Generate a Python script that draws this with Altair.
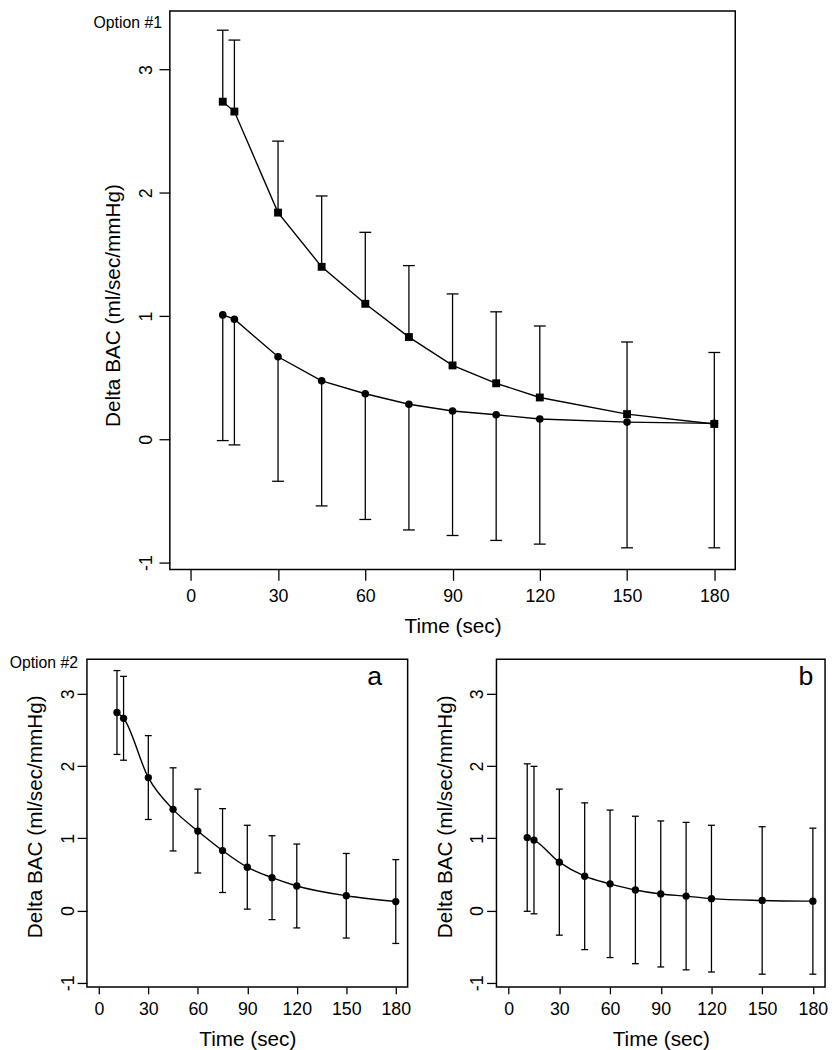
import altair as alt
import pandas as pd

# ---- data ----
time_sec = [11, 15, 30, 45, 60, 75, 90, 105, 120, 150, 180]
# series shown with squares in option #1 and in panel a
mean_a = [2.74, 2.66, 1.84, 1.40, 1.10, 0.83, 0.60, 0.455, 0.34, 0.205, 0.125]
sd_a = [0.58, 0.58, 0.58, 0.575, 0.58, 0.58, 0.58, 0.58, 0.58, 0.585, 0.58]
# series shown with circles in option #1 and in panel b
mean_b = [1.01, 0.975, 0.67, 0.475, 0.37, 0.285, 0.23, 0.20, 0.165, 0.14, 0.13]
sd_b = [1.02, 1.02, 1.01, 1.015, 1.02, 1.02, 1.01, 1.02, 1.015, 1.02, 1.01]

x_ticks = [0, 30, 60, 90, 120, 150, 180]
y_ticks = [-1, 0, 1, 2, 3]
x_domain = [-7.2, 187.2]
y_domain = [-1.056, 3.476]

FONT = "Liberation Sans"


def frame(mean, sd):
    return pd.DataFrame({
        "time": time_sec,
        "mean": mean,
        "hi": [m + s for m, s in zip(mean, sd)],
        "lo": [m - s for m, s in zip(mean, sd)],
    })


df_a = frame(mean_a, sd_a)
df_b = frame(mean_b, sd_b)


def x_enc(field, p):
    return alt.X(
        f"{field}:Q",
        scale=alt.Scale(domain=x_domain, nice=False, zero=False),
        axis=alt.Axis(
            values=x_ticks, title="Time (sec)", domain=False, grid=False,
            tickSize=p["xtick"], tickWidth=1.3, tickColor="black",
            labelFont=FONT, labelFontSize=18, labelColor="black",
            labelPadding=p["xlpad"], labelFlush=False, labelOverlap=False,
            titleFont=FONT, titleFontSize=21, titleFontWeight="normal",
            titleColor="black", titlePadding=p["xtpad"],
        ),
    )


def y_enc(field, p):
    return alt.Y(
        f"{field}:Q",
        scale=alt.Scale(domain=y_domain, nice=False, zero=False),
        axis=alt.Axis(
            values=y_ticks, title="Delta BAC (ml/sec/mmHg)", domain=False,
            grid=False, tickSize=p["ytick"], tickWidth=1.3, tickColor="black",
            labelFont=FONT, labelFontSize=18, labelColor="black",
            labelAngle=270, labelAlign="center", labelBaseline="alphabetic",
            labelExpr="'' + datum.value",
            labelPadding=p["ylpad"], labelFlush=False, labelOverlap=False,
            titleFont=FONT, titleFontSize=21, titleFontWeight="normal",
            titleColor="black", titlePadding=p["ytpad"], titleY=p["ytitley"],
        ),
    )


def series(df, shape, size, err, cap, interp, p):
    base = alt.Chart(df)
    X = x_enc("time", p)
    layers = [base.mark_line(color="black", strokeWidth=1.4, interpolate=interp).encode(
        x=X, y=y_enc("mean", p))]
    if err in ("up", "both"):
        layers.append(base.mark_rule(color="black", strokeWidth=1.3).encode(
            x=X, y=y_enc("mean", p), y2="hi"))
        layers.append(base.mark_tick(color="black", orient="horizontal", size=cap,
                                     thickness=1.3, opacity=1).encode(
            x=X, y=y_enc("hi", p)))
    if err in ("down", "both"):
        layers.append(base.mark_rule(color="black", strokeWidth=1.3).encode(
            x=X, y=y_enc("lo", p), y2="mean"))
        layers.append(base.mark_tick(color="black", orient="horizontal", size=cap,
                                     thickness=1.3, opacity=1).encode(
            x=X, y=y_enc("lo", p)))
    layers.append(base.mark_point(shape=shape, filled=True, size=size, color="black",
                                  opacity=1).encode(x=X, y=y_enc("mean", p)))
    return layers


def label(text, x, y, size, align):
    return alt.Chart(pd.DataFrame({"t": [text]})).mark_text(
        font=FONT, fontSize=size, color="black", align=align, baseline="alphabetic"
    ).encode(x=alt.value(x), y=alt.value(y), text="t:N")


# ---- Option #1 ----
TOP_W, TOP_H = 573, 566
p_top = dict(xtick=11, xlpad=7, xtpad=11, ytick=11, ylpad=8, ytpad=14, ytitley=298)
top_layers = (
    series(df_b, "circle", 60, "down", 12, "linear", p_top)
    + series(df_a, "square", 64, "up", 12, "linear", p_top)
    + [label("Option #1", -8, 17, 16, "right")]
)
top = alt.layer(*top_layers).properties(width=TOP_W, height=TOP_H)

# empty, invisible cell that indents the upper panel relative to the lower row
indent = alt.Chart(pd.DataFrame({"t": [0]})).mark_point(
    opacity=0, size=1, filled=True, strokeWidth=0
).encode(x=alt.value(0.5), y=alt.value(0.5)).properties(
    width=1, height=1, view=alt.ViewBackground(strokeOpacity=0)
)
top_row = alt.hconcat(indent, top, spacing=83, bounds="flush")

# ---- Option #2 ----
A_W, B_W, BOT_H = 325, 333, 332
p_bot = dict(xtick=7, xlpad=7, xtpad=10, ytick=10, ylpad=4, ytpad=14, ytitley=159)
panel_a = alt.layer(
    *series(df_a, "circle", 55, "both", 7, "monotone", p_bot),
    label("Option #2", -9, 9, 16, "right"),
    label("a", A_W - 26, 26, 27, "right"),
).properties(width=A_W, height=BOT_H)

panel_b = alt.layer(
    *series(df_b, "circle", 55, "both", 7, "monotone", p_bot),
    label("b", B_W - 12, 26, 27, "right"),
).properties(width=B_W, height=BOT_H)

bottom = alt.hconcat(panel_a, panel_b, spacing=90, bounds="flush")

chart = alt.concat(
    top_row, bottom, columns=1, align="none", spacing=17
).properties(
    padding={"left": 0, "top": -5, "right": 0, "bottom": 0}, background="white"
).configure_view(stroke="black", strokeWidth=1.5)

chart.save("out.html", embed_options={"renderer": "svg", "actions": False})
